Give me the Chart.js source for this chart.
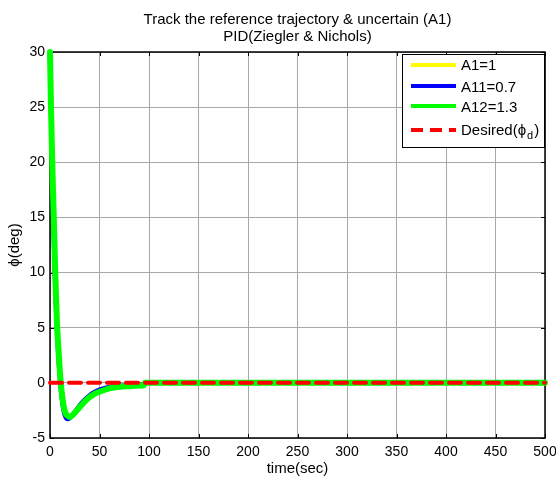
<!DOCTYPE html>
<html>
<head>
<meta charset="utf-8">
<title>Track the reference trajectory</title>
<script src="https://cdn.jsdelivr.net/npm/chart.js"></script>
<style>
  html, body { margin: 0; padding: 0; background: #fff; }
</style>
</head>
<body>
<canvas id="phiChart" width="556" height="479"></canvas>
<script>
// data
const timeSec  = [0, 1, 2, 3, 4, 5, 6, 7, 8, 10, 12, 14, 16, 18, 20, 22, 25, 30, 35, 40, 45, 50, 60, 70, 80, 90, 95, 96, 100, 150, 200, 250, 300, 350, 400, 450, 500];
const phiA1    = [30, 24.5, 20.2, 16.5, 13.2, 10, 7.2, 5, 3.3, 0.6, -1.3, -2.5, -3.0, -3.15, -3.15, -3.0, -2.65, -2.1, -1.6, -1.2, -0.9, -0.7, -0.42, -0.3, -0.25, -0.2, -0.15, 0, 0, 0, 0, 0, 0, 0, 0, 0, 0];
const phiA11   = [30, 24, 19.5, 15.5, 12, 9, 6.5, 4.5, 2.8, 0.2, -1.6, -2.7, -3.2, -3.3, -3.2, -3.0, -2.6, -2.0, -1.5, -1.1, -0.8, -0.6, -0.35, -0.25, -0.2, -0.15, -0.1, 0, 0, 0, 0, 0, 0, 0, 0, 0, 0];
const phiA12   = [30, 25, 21, 17.5, 14.5, 11, 8, 5.5, 3.8, 1, -1, -2.2, -2.8, -3.0, -3.1, -3.0, -2.7, -2.2, -1.7, -1.3, -1.0, -0.8, -0.5, -0.35, -0.3, -0.25, -0.2, 0, 0, 0, 0, 0, 0, 0, 0, 0, 0];
const desiredTime = [0, 500];
const phiDesired  = [0, 0];
const xTicks = [0, 50, 100, 150, 200, 250, 300, 350, 400, 450, 500];
const yTicks = [-5, 0, 5, 10, 15, 20, 25, 30];

const FONT = 'Liberation Sans, Arial, sans-serif';

function toPoints(xs, ys) {
  return xs.map((x, i) => ({ x: x, y: ys[i] }));
}

// frame, inward ticks, title and legend, drawn like the matlab figure
const matlabLook = {
  id: 'matlabLook',
  beforeDatasetsDraw(chart) {
    const ctx = chart.ctx;
    const a = chart.chartArea;
    const xs = chart.scales.x, ys = chart.scales.y;
    ctx.save();
    ctx.strokeStyle = '#000';
    ctx.lineWidth = 1;
    xTicks.forEach(v => {
      const px = Math.round(xs.getPixelForValue(v)) + 0.5;
      ctx.beginPath();
      ctx.moveTo(px, a.bottom); ctx.lineTo(px, a.bottom - 4);
      ctx.moveTo(px, a.top); ctx.lineTo(px, a.top + 4);
      ctx.stroke();
    });
    yTicks.forEach(v => {
      const py = Math.round(ys.getPixelForValue(v)) + 0.5;
      ctx.beginPath();
      ctx.moveTo(a.left, py); ctx.lineTo(a.left + 4, py);
      ctx.moveTo(a.right, py); ctx.lineTo(a.right - 4, py);
      ctx.stroke();
    });
    ctx.lineWidth = 1.5;
    ctx.strokeRect(a.left, a.top, a.right - a.left, a.bottom - a.top);
    ctx.restore();
  },
  afterDraw(chart) {
    const ctx = chart.ctx;
    const a = chart.chartArea;
    ctx.save();
    // title
    ctx.fillStyle = '#000';
    ctx.font = '15px ' + FONT;
    ctx.textAlign = 'center';
    ctx.textBaseline = 'middle';
    const cx = (a.left + a.right) / 2;
    ctx.fillText('Track the reference trajectory & uncertain (A1)', cx, 20);
    ctx.fillText('PID(Ziegler & Nichols)', cx, 37);

    // legend
    const bx = 402, by = 54, bw = 142, bh = 93;
    ctx.fillStyle = '#fff';
    ctx.fillRect(bx, by, bw, bh);
    ctx.strokeStyle = '#000';
    ctx.lineWidth = 1;
    ctx.strokeRect(bx + 0.5, by + 0.5, bw, bh);
    const lineRows = [65, 86, 106, 130];
    const textRows = [66, 87.5, 108, 130.5];
    ctx.font = '15px ' + FONT;
    ctx.textAlign = 'left';
    chart.data.datasets.forEach((d, i) => {
      ctx.beginPath();
      ctx.strokeStyle = d.borderColor;
      ctx.lineWidth = 4;
      ctx.setLineDash(d.borderDash || []);
      ctx.moveTo(411, lineRows[i]);
      ctx.lineTo(456, lineRows[i]);
      ctx.stroke();
      ctx.setLineDash([]);
      ctx.fillStyle = '#000';
      const y = textRows[i];
      if (d.label === 'Desired') {
        ctx.fillText('Desired(\u03d5', 461, y);
        const w = ctx.measureText('Desired(\u03d5').width;
        ctx.font = '11px ' + FONT;
        ctx.fillText('d', 461 + w + 1, y + 5);
        const wd = ctx.measureText('d').width;
        ctx.font = '15px ' + FONT;
        ctx.fillText(')', 461 + w + wd + 2, y);
      } else {
        ctx.fillText(d.label, 461, y);
      }
    });
    ctx.restore();
  }
};

new Chart(document.getElementById('phiChart').getContext('2d'), {
  type: 'line',
  data: {
    datasets: [
      { label: 'A1=1', data: toPoints(timeSec, phiA1), borderColor: '#ffff00', borderWidth: 4, order: 3 },
      { label: 'A11=0.7', data: toPoints(timeSec, phiA11), borderColor: '#0000ff', borderWidth: 4, order: 2 },
      { label: 'A12=1.3', data: toPoints(timeSec, phiA12), borderColor: '#00ff00', borderWidth: 6, order: 1 },
      { label: 'Desired', data: toPoints(desiredTime, phiDesired), borderColor: '#ff0000', borderWidth: 4, borderDash: [12, 7], order: 0 }
    ]
  },
  options: {
    responsive: false,
    animation: false,
    devicePixelRatio: 1,
    layout: { padding: { top: 52, right: 11, left: 0, bottom: 0 } },
    elements: {
      point: { radius: 0 },
      line: { cubicInterpolationMode: 'monotone', borderCapStyle: 'round', fill: false }
    },
    datasets: { line: { clip: false } },
    plugins: {
      legend: { display: false },
      title: { display: false },
      tooltip: { enabled: false }
    },
    scales: {
      x: {
        type: 'linear', min: 0, max: 500,
        afterBuildTicks: s => { s.ticks = xTicks.map(v => ({ value: v })); },
        afterFit: s => { s.height = 41; s.paddingLeft = 0; s.paddingRight = 0; },
        grid: { color: '#a8a8a8', lineWidth: 1, drawTicks: false },
        border: { display: false },
        ticks: { padding: 6, color: '#000', maxRotation: 0, font: { family: FONT, size: 14 } },
        title: { display: true, text: 'time(sec)', color: '#000', font: { family: FONT, size: 15 }, padding: { top: 0, bottom: 1 } }
      },
      y: {
        type: 'linear', min: -5, max: 30,
        afterBuildTicks: s => { s.ticks = yTicks.map(v => ({ value: v })); },
        afterFit: s => { s.width = 50; s.paddingTop = 0; s.paddingBottom = 0; },
        grid: { color: '#a8a8a8', lineWidth: 1, drawTicks: false },
        border: { display: false },
        ticks: { padding: 5, color: '#000', font: { family: FONT, size: 14 } },
        title: { display: true, text: '\u03d5(deg)', color: '#000', font: { family: FONT, size: 15 }, padding: { top: 6, bottom: 0 } }
      }
    }
  },
  plugins: [matlabLook]
});
</script>
</body>
</html>
